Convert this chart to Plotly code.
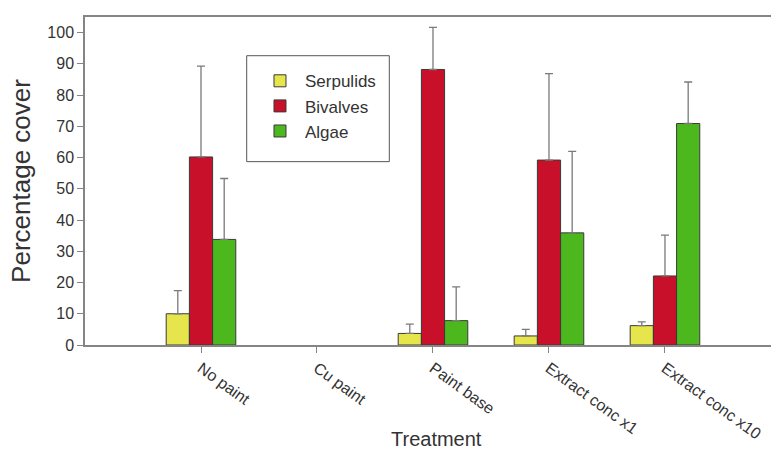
import plotly.graph_objects as go

# ---- data ----
treatments = ["No paint", "Cu paint", "Paint base", "Extract conc x1", "Extract conc x10"]
serpulids = [10.0, None, 3.7, 2.9, 6.2]
serpulids_se = [7.4, None, 3.0, 2.1, 1.2]
bivalves = [60.2, None, 88.2, 59.2, 22.1]
bivalves_se = [29.1, None, 13.5, 27.7, 13.1]
algae = [33.8, None, 7.8, 35.9, 70.9]
algae_se = [19.5, None, 10.8, 26.1, 13.3]
y_ticks = [0, 10, 20, 30, 40, 50, 60, 70, 80, 90, 100]

FONT = "Liberation Sans, Arial, sans-serif"
AX = "#858585"

series = [
    ("Serpulids", serpulids, serpulids_se, "#E6E54C"),
    ("Bivalves", bivalves, bivalves_se, "#C8102A"),
    ("Algae", algae, algae_se, "#4DB81E"),
]

fig = go.Figure()
for name, vals, se, col in series:
    fig.add_trace(go.Bar(
        name=name, x=treatments, y=vals,
        marker=dict(color=col, line=dict(color="#3a3a3a", width=1)),
        error_y=dict(type="data", symmetric=False, array=se,
                     arrayminus=[0 if v is not None else None for v in se],
                     color="#7a7a7a", thickness=1.3, width=4),
    ))

# legend frame (decoration) drawn in paper coordinates
fig.add_shape(type="rect", xref="paper", yref="paper",
              x0=0.2357, x1=0.4436, y0=0.559, y1=0.882,
              line=dict(color="#555", width=1), fillcolor="white", layer="below")

fig.update_layout(
    width=771, height=452,
    margin=dict(l=85, r=0, t=17, b=107, autoexpand=False),
    paper_bgcolor="white", plot_bgcolor="rgba(0,0,0,0)",
    barmode="group", bargap=0.4, bargroupgap=0,
    font=dict(family=FONT, color="#222"),
    showlegend=True,
    legend=dict(x=0.2478, y=0.859, xanchor="left", yanchor="top",
                bgcolor="rgba(0,0,0,0)", borderwidth=0,
                font=dict(family=FONT, size=17, color="#333"),
                itemwidth=40, tracegroupgap=0),
    xaxis=dict(
        type="category", range=[-1, 4.914], automargin=False,
        showline=True, linecolor=AX, linewidth=1.5, mirror=True,
        ticks="outside", ticklen=6, tickcolor=AX, tickwidth=1,
        tickangle=36, tickfont=dict(family=FONT, size=16, color="#333"),
        showgrid=False, zeroline=False,
    ),
    yaxis=dict(
        range=[0, 105], tickvals=y_ticks, automargin=False,
        showline=True, linecolor=AX, linewidth=1.5,
        ticks="outside", ticklen=6, tickcolor=AX, tickwidth=1,
        tickfont=dict(family=FONT, size=16, color="#333"),
        showgrid=False, zeroline=False,
        title=dict(text="Percentage cover", font=dict(family=FONT, size=26, color="#333"), standoff=9),
    ),
    annotations=[dict(text="Treatment", xref="paper", yref="paper",
                      x=0.512, y=-0.287, xanchor="center", yanchor="middle",
                      showarrow=False, font=dict(family=FONT, size=20, color="#333"))],
)

fig.write_html("out.html", config={"displayModeBar": False},
               post_script="document.body.style.margin='0';document.body.style.padding='0';")
